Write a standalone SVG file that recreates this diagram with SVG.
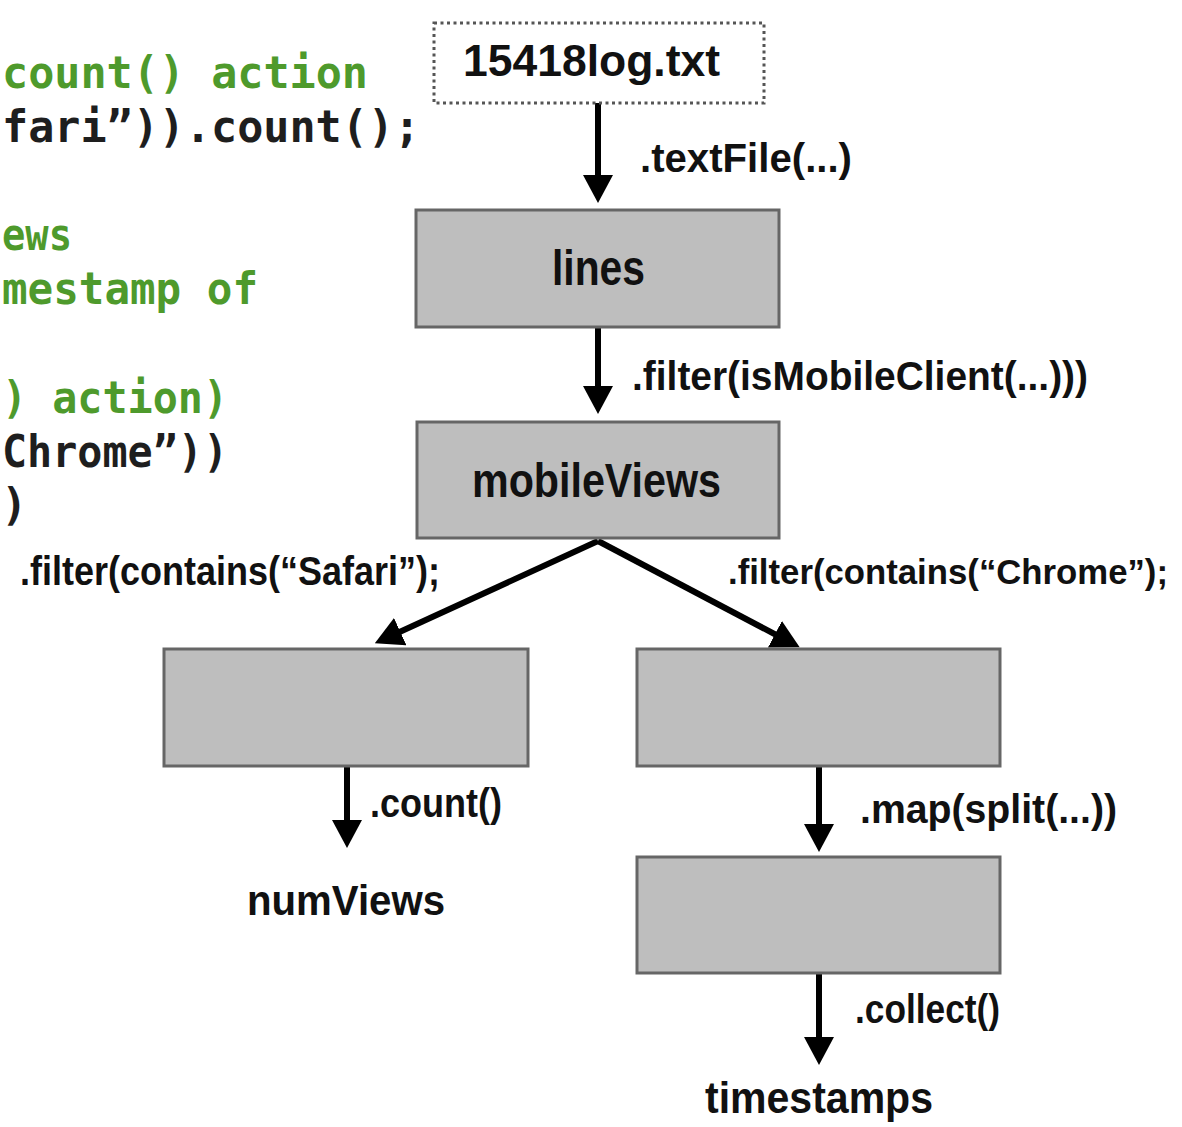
<svg xmlns="http://www.w3.org/2000/svg" width="1182" height="1127" viewBox="0 0 1182 1127">
<style>
.code{font-family:"DejaVu Sans Mono","Liberation Mono",monospace;font-size:44px;font-weight:bold}
.g{fill:#4e9a2c}
.k{fill:#1e1e1e}
.lbl{font-family:"Liberation Sans Narrow","Liberation Sans",Arial,sans-serif;font-weight:bold;fill:#111}
.box{fill:#bebebe;stroke:#666;stroke-width:3}
.src{fill:#fff;stroke:#555;stroke-width:3;stroke-dasharray:3 3.5}
.edge{fill:none;stroke:#000;stroke-width:6}
</style>
<defs>
<marker id="ah" markerUnits="userSpaceOnUse" markerWidth="30" markerHeight="32" refX="8" refY="15" orient="auto">
<path d="M0,0 L28,15 L0,30 z" fill="#000"/>
</marker>
</defs>
<rect width="1182" height="1127" fill="#fff"/>
<g id="code">
<text class="code g" x="2" y="88" textLength="366" lengthAdjust="spacingAndGlyphs">count() action</text>
<text class="code k" x="2" y="142" textLength="418" lengthAdjust="spacingAndGlyphs">fari”)).count();</text>
<text class="code g" x="2" y="250" textLength="70" lengthAdjust="spacingAndGlyphs">ews</text>
<text class="code g" x="2" y="304" textLength="256" lengthAdjust="spacingAndGlyphs">mestamp of</text>
<text class="code g" x="2" y="413" textLength="226" lengthAdjust="spacingAndGlyphs">) action)</text>
<text class="code k" x="2" y="467" textLength="226" lengthAdjust="spacingAndGlyphs">Chrome”))</text>
<text class="code k" x="1" y="520">)</text>
</g>
<g id="connectors">
<path class="edge" d="M598,103 V183" marker-end="url(#ah)"/>
<path class="edge" d="M598,327 V394" marker-end="url(#ah)"/>
<path class="edge" d="M598,541 L393,635" marker-end="url(#ah)"/>
<path class="edge" d="M598,541 L782,638" marker-end="url(#ah)"/>
<path class="edge" d="M347,766 V828" marker-end="url(#ah)"/>
<path class="edge" d="M819,766 V832" marker-end="url(#ah)"/>
<path class="edge" d="M819,973 V1045" marker-end="url(#ah)"/>
<text class="lbl" x="640" y="172" font-size="40" textLength="212" lengthAdjust="spacingAndGlyphs">.textFile(...)</text>
<text class="lbl" x="632" y="390" font-size="40" textLength="456" lengthAdjust="spacingAndGlyphs">.filter(isMobileClient(...)))</text>
<text class="lbl" x="20" y="585" font-size="40" textLength="420" lengthAdjust="spacingAndGlyphs">.filter(contains(“Safari”);</text>
<text class="lbl" x="728" y="584" font-size="35" textLength="440" lengthAdjust="spacingAndGlyphs">.filter(contains(“Chrome”);</text>
<text class="lbl" x="370" y="817" font-size="40" textLength="132" lengthAdjust="spacingAndGlyphs">.count()</text>
<text class="lbl" x="860" y="823" font-size="40" textLength="257" lengthAdjust="spacingAndGlyphs">.map(split(...))</text>
<text class="lbl" x="855" y="1023" font-size="40" textLength="145" lengthAdjust="spacingAndGlyphs">.collect()</text>
</g>
<g id="log">
<rect class="src" x="434" y="23" width="330" height="80"/>
<text class="lbl" x="463" y="76" font-size="45" textLength="257" lengthAdjust="spacingAndGlyphs">15418log.txt</text>
</g>
<g id="lines">
<rect class="box" x="416" y="210" width="363" height="117"/>
<text class="lbl" x="552" y="285" font-size="50" textLength="93" lengthAdjust="spacingAndGlyphs">lines</text>
</g>
<g id="mobileViews">
<rect class="box" x="417" y="422" width="362" height="116"/>
<text class="lbl" x="472" y="497" font-size="48" textLength="249" lengthAdjust="spacingAndGlyphs">mobileViews</text>
</g>
<g id="safari">
<rect class="box" x="164" y="649" width="364" height="117"/>
</g>
<g id="chrome">
<rect class="box" x="637" y="649" width="363" height="117"/>
</g>
<g id="split">
<rect class="box" x="637" y="857" width="363" height="116"/>
</g>
<g id="numViews">
<text class="lbl" x="247" y="915" font-size="42" textLength="198" lengthAdjust="spacingAndGlyphs">numViews</text>
</g>
<g id="timestamps">
<text class="lbl" x="705" y="1113" font-size="44" textLength="228" lengthAdjust="spacingAndGlyphs">timestamps</text>
</g>
</svg>
